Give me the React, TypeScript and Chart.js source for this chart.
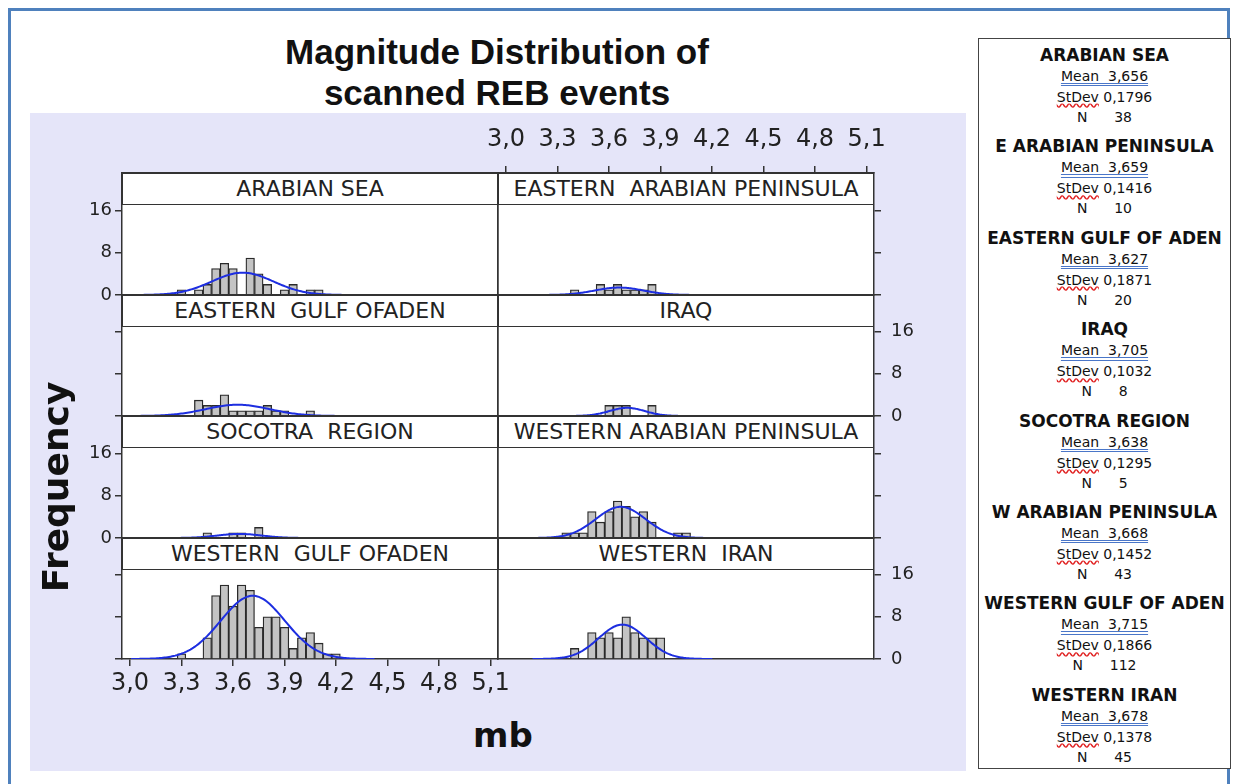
import React, { useEffect, useRef } from "react";
import { Chart, registerables } from "chart.js";

Chart.register(...registerables);

// ---------------- data ----------------
const binCenters = [3.2, 3.25, 3.3, 3.35, 3.4, 3.45, 3.5, 3.55, 3.6, 3.65, 3.7, 3.75, 3.8, 3.85, 3.9, 3.95, 4.0, 4.05, 4.1, 4.15, 4.2, 4.25];

const arabianSeaCounts = [0, 0, 1, 0, 1, 2, 5, 6, 5, 0, 7, 4, 2, 0, 1, 2, 0, 1, 1, 0, 0, 0];
const eArabianPeninsulaCounts = [0, 0, 0, 0, 1, 0, 0, 2, 1, 2, 1, 1, 1, 2, 0, 0, 0, 0, 0, 0, 0, 0];
const eGulfOfAdenCounts = [0, 0, 0, 0, 3, 2, 2, 4, 1, 1, 1, 1, 2, 1, 1, 0, 0, 1, 0, 0, 0, 0];
const iraqCounts = [0, 0, 0, 0, 0, 0, 0, 0, 2, 2, 2, 0, 0, 2, 0, 0, 0, 0, 0, 0, 0, 0];
const socotraCounts = [0, 0, 0, 0, 0, 1, 0, 0, 1, 1, 0, 2, 0, 0, 0, 0, 0, 0, 0, 0, 0, 0];
const wArabianPeninsulaCounts = [0, 0, 0, 1, 1, 1, 5, 3, 5, 7, 6, 4, 5, 3, 0, 0, 1, 1, 0, 0, 0, 0];
const wGulfOfAdenCounts = [0, 0, 1, 0, 0, 4, 12, 14, 10, 14, 13, 6, 8, 8, 6, 2, 4, 5, 3, 1, 1, 0];
const wIranCounts = [0, 0, 0, 0, 2, 0, 5, 4, 5, 4, 8, 5, 4, 4, 4, 0, 0, 0, 0, 0, 0, 0];

const panelCounts = [
  arabianSeaCounts,
  eArabianPeninsulaCounts,
  eGulfOfAdenCounts,
  iraqCounts,
  socotraCounts,
  wArabianPeninsulaCounts,
  wGulfOfAdenCounts,
  wIranCounts,
];

const panelTitles = [
  "ARABIAN SEA",
  "EASTERN  ARABIAN PENINSULA",
  "EASTERN  GULF OFADEN",
  "IRAQ",
  "SOCOTRA  REGION",
  "WESTERN ARABIAN PENINSULA",
  "WESTERN  GULF OFADEN",
  "WESTERN  IRAN",
];

const legendNames = [
  "ARABIAN SEA",
  "E ARABIAN PENINSULA",
  "EASTERN GULF OF ADEN",
  "IRAQ",
  "SOCOTRA REGION",
  "W ARABIAN PENINSULA",
  "WESTERN GULF OF ADEN",
  "WESTERN IRAN",
];

const means = [3.656, 3.659, 3.627, 3.705, 3.638, 3.668, 3.715, 3.678];
const stdevs = [0.1796, 0.1416, 0.1871, 0.1032, 0.1295, 0.1452, 0.1866, 0.1378];
const sampleSizes = [38, 10, 20, 8, 5, 43, 112, 45];

const xTicks = [3.0, 3.3, 3.6, 3.9, 4.2, 4.5, 4.8, 5.1];
const yTicks = [0, 8, 16];

// ---------------- layout ----------------
const GRID_LEFT = 122;
const COL_W = 376;
const ROW_TOPS = [173, 295, 416, 538];
const ROW_BOTTOMS = [295, 416, 538, 659];
const STRIP_H = 32;
const PX_PER_X = 171.7;
const PX_PER_Y = 5.28;
const X_MIN = 3.0 - 8 / PX_PER_X;
const X_MAX = X_MIN + COL_W / PX_PER_X;
const M = { left: 48, right: 48, top: 50, bottom: 45 };

const FONT = "'DejaVu Sans', Verdana, sans-serif";
const AXIS_COLOR = "#333";

const fmtComma = (v: number, d: number) => v.toFixed(d).replace(".", ",");

function makeAxis(
  axis: "x" | "y",
  position: string,
  min: number,
  max: number,
  ticksArr: number[],
  marks: boolean,
  labels: boolean,
  size: number,
  fontSize: number,
  padding: number
) {
  return {
    type: "linear",
    axis,
    position,
    min,
    max,
    offset: false,
    grid: {
      display: true,
      drawOnChartArea: false,
      drawTicks: marks,
      tickLength: 7,
      color: AXIS_COLOR,
      lineWidth: 1.5,
      offset: false,
    },
    border: { display: true, color: AXIS_COLOR, width: 1.5 },
    ticks: {
      display: labels,
      color: "#222",
      font: { family: FONT, size: fontSize },
      padding,
      autoSkip: false,
      maxRotation: 0,
      minRotation: 0,
      includeBounds: false,
      callback: (v: any) => (axis === "x" ? fmtComma(Number(v), 1) : String(v)),
    },
    afterBuildTicks: (s: any) => {
      s.ticks = ticksArr.map((v) => ({ value: v }));
    },
    afterFit: (s: any) => {
      if (axis === "x") s.height = size;
      else s.width = size;
    },
  };
}

function Panel({ idx }: { idx: number }) {
  const ref = useRef<HTMLCanvasElement>(null);
  const row = Math.floor(idx / 2);
  const col = idx % 2;
  const left = GRID_LEFT + col * COL_W;
  const top = ROW_TOPS[row];
  const h = ROW_BOTTOMS[row] - ROW_TOPS[row];
  const w = COL_W;
  const cw = w + M.left + M.right;
  const ch = h + M.top + M.bottom;

  useEffect(() => {
    if (!ref.current) return;
    const mean = means[idx];
    const sd = stdevs[idx];
    const n = sampleSizes[idx];
    const hist = panelCounts[idx];
    const binW = binCenters[1] - binCenters[0];
    const yMax = h / PX_PER_Y;

    const barData = binCenters.map((x, i) => ({ x, y: hist[i] > 0 ? hist[i] : null }));

    // fitted normal curve from the displayed mean / StDev / N
    const curve: { x: number; y: number }[] = [];
    const lo = mean - 3.8 * sd;
    const hi = mean + 3.8 * sd;
    const steps = 160;
    for (let k = 0; k <= steps; k++) {
      const x = lo + ((hi - lo) * k) / steps;
      const z = (x - mean) / sd;
      const y = (n * binW) / (sd * Math.sqrt(2 * Math.PI)) * Math.exp(-0.5 * z * z);
      curve.push({ x, y });
    }

    const leftMarks = col === 0;
    const leftLabels = col === 0 && (row === 0 || row === 2);
    const rightMarks = col === 1;
    const rightLabels = col === 1 && (row === 1 || row === 3);
    const topMarks = row === 0 && col === 1;
    const bottomMarks = row === 3 && col === 0;

    const chart = new Chart(ref.current, {
      type: "bar",
      data: {
        datasets: [
          {
            type: "line",
            data: curve,
            borderColor: "#1d2ee0",
            borderWidth: 2,
            pointRadius: 0,
            tension: 0,
            xAxisID: "x",
            yAxisID: "y",
            order: 0,
          } as any,
          {
            type: "bar",
            data: barData,
            backgroundColor: "#c4c4c4",
            borderColor: "#2a2a2a",
            borderWidth: 1.3,
            barPercentage: 1,
            categoryPercentage: 1,
            xAxisID: "x",
            yAxisID: "y",
            order: 1,
          } as any,
        ],
      },
      options: {
        responsive: false,
        maintainAspectRatio: false,
        animation: false,
        devicePixelRatio: 1,
        events: [],
        layout: { padding: 0, autoPadding: false },
        plugins: { legend: { display: false }, tooltip: { enabled: false }, title: { display: false } },
        scales: {
          x: makeAxis("x", "bottom", X_MIN, X_MAX, xTicks, bottomMarks, bottomMarks, M.bottom, 24, 3),
          x2: makeAxis("x", "top", X_MIN, X_MAX, xTicks, topMarks, topMarks, M.top, 24, 12),
          y: makeAxis("y", "left", 0, yMax, yTicks, leftMarks, leftLabels, M.left, 18, 3),
          y2: makeAxis("y", "right", 0, yMax, yTicks, rightMarks, rightLabels, M.right, 18, 10),
        } as any,
      } as any,
    });
    return () => chart.destroy();
  }, []);

  return (
    <canvas
      ref={ref}
      width={cw}
      height={ch}
      style={{
        position: "absolute",
        left: left - M.left,
        top: top - M.top,
        width: cw,
        height: ch,
        zIndex: 2,
      }}
    />
  );
}

function Strip({ idx }: { idx: number }) {
  const row = Math.floor(idx / 2);
  const col = idx % 2;
  return (
    <div
      style={{
        position: "absolute",
        left: GRID_LEFT + col * COL_W,
        top: ROW_TOPS[row],
        width: COL_W,
        height: STRIP_H,
        boxSizing: "border-box",
        border: `1.5px solid ${AXIS_COLOR}`,
        background: "#fff",
        fontFamily: FONT,
        fontSize: 22,
        color: "#222",
        textAlign: "center",
        lineHeight: `${STRIP_H - 3}px`,
        whiteSpace: "pre",
        zIndex: 3,
      }}
    >
      {panelTitles[idx]}
    </div>
  );
}

function PanelBg({ idx }: { idx: number }) {
  const row = Math.floor(idx / 2);
  const col = idx % 2;
  return (
    <div
      style={{
        position: "absolute",
        left: GRID_LEFT + col * COL_W,
        top: ROW_TOPS[row],
        width: COL_W,
        height: ROW_BOTTOMS[row] - ROW_TOPS[row],
        background: "#fff",
        zIndex: 1,
      }}
    />
  );
}

function Legend() {
  const boxLeft = 978;
  const boxW = 253;
  const lines: React.ReactNode[] = [];
  legendNames.forEach((name, g) => {
    const base = 55 + 91.4 * g;
    const lineStyle = (cy: number, extra: any = {}) => ({
      position: "absolute" as const,
      left: boxLeft,
      width: boxW,
      top: cy - 10,
      height: 20,
      lineHeight: "20px",
      textAlign: "center" as const,
      color: "#111",
      whiteSpace: "pre" as const,
      zIndex: 3,
      ...extra,
    });
    lines.push(
      <div key={`t${g}`} style={lineStyle(base, { fontFamily: FONT, fontWeight: "bold", fontSize: 17 })}>
        {name}
      </div>
    );
    lines.push(
      <div key={`m${g}`} style={lineStyle(base + 21, { fontFamily: FONT, fontSize: 14 })}>
        <span
          style={{
            textDecorationLine: "underline",
            textDecorationStyle: "double",
            textDecorationColor: "#4a76c8",
            textUnderlineOffset: "2px",
          }}
        >
          {`Mean  ${fmtComma(means[g], 3)}`}
        </span>
      </div>
    );
    lines.push(
      <div key={`s${g}`} style={lineStyle(base + 42, { fontFamily: FONT, fontSize: 14 })}>
        <span
          style={{
            textDecorationLine: "underline",
            textDecorationStyle: "wavy",
            textDecorationColor: "#e02020",
          }}
        >
          StDev
        </span>
        {` ${fmtComma(stdevs[g], 4)}`}
      </div>
    );
    lines.push(
      <div key={`n${g}`} style={lineStyle(base + 62, { fontFamily: FONT, fontSize: 14 })}>
        {`N      ${sampleSizes[g]}`}
      </div>
    );
  });
  return (
    <>
      <div
        style={{
          position: "absolute",
          left: boxLeft,
          top: 38,
          width: boxW,
          height: 731,
          boxSizing: "border-box",
          border: "1px solid #444",
          background: "#fff",
          zIndex: 1,
        }}
      />
      {lines}
    </>
  );
}

export default function App() {
  const idxs = [0, 1, 2, 3, 4, 5, 6, 7];
  return (
    <div
      style={{
        position: "absolute",
        left: 0,
        top: 0,
        width: 1234,
        height: 784,
        background: "#fff",
        overflow: "hidden",
      }}
    >
      {/* blue frame */}
      <div
        style={{
          position: "absolute",
          left: 8,
          top: 8,
          width: 1222,
          height: 800,
          boxSizing: "border-box",
          borderTop: "3px solid #4f81bd",
          borderLeft: "3px solid #4f81bd",
          borderRight: "3px solid #4f81bd",
        }}
      />
      {/* lavender plot background */}
      <div style={{ position: "absolute", left: 30, top: 113, width: 936, height: 658, background: "#e5e5f9" }} />
      {/* title */}
      <div
        style={{
          position: "absolute",
          left: 197,
          width: 600,
          top: 31,
          textAlign: "center",
          fontFamily: "'Liberation Sans', Arial, sans-serif",
          fontWeight: "bold",
          fontSize: 35,
          lineHeight: "41px",
          color: "#111",
        }}
      >
        Magnitude Distribution of
        <br />
        scanned REB events
      </div>
      {idxs.map((i) => (
        <PanelBg key={`bg${i}`} idx={i} />
      ))}
      {idxs.map((i) => (
        <Panel key={`p${i}`} idx={i} />
      ))}
      {idxs.map((i) => (
        <Strip key={`s${i}`} idx={i} />
      ))}
      {/* y axis title */}
      <div
        style={{
          position: "absolute",
          left: 56 - 150,
          top: 487 - 25,
          width: 300,
          height: 50,
          lineHeight: "50px",
          textAlign: "center",
          transform: "rotate(-90deg)",
          fontFamily: FONT,
          fontWeight: "bold",
          fontSize: 36,
          color: "#111",
          zIndex: 3,
        }}
      >
        Frequency
      </div>
      {/* x axis title */}
      <div
        style={{
          position: "absolute",
          left: 403,
          width: 200,
          top: 712,
          height: 46,
          lineHeight: "46px",
          textAlign: "center",
          fontFamily: FONT,
          fontWeight: "bold",
          fontSize: 34,
          color: "#111",
          zIndex: 3,
        }}
      >
        mb
      </div>
      <Legend />
    </div>
  );
}
